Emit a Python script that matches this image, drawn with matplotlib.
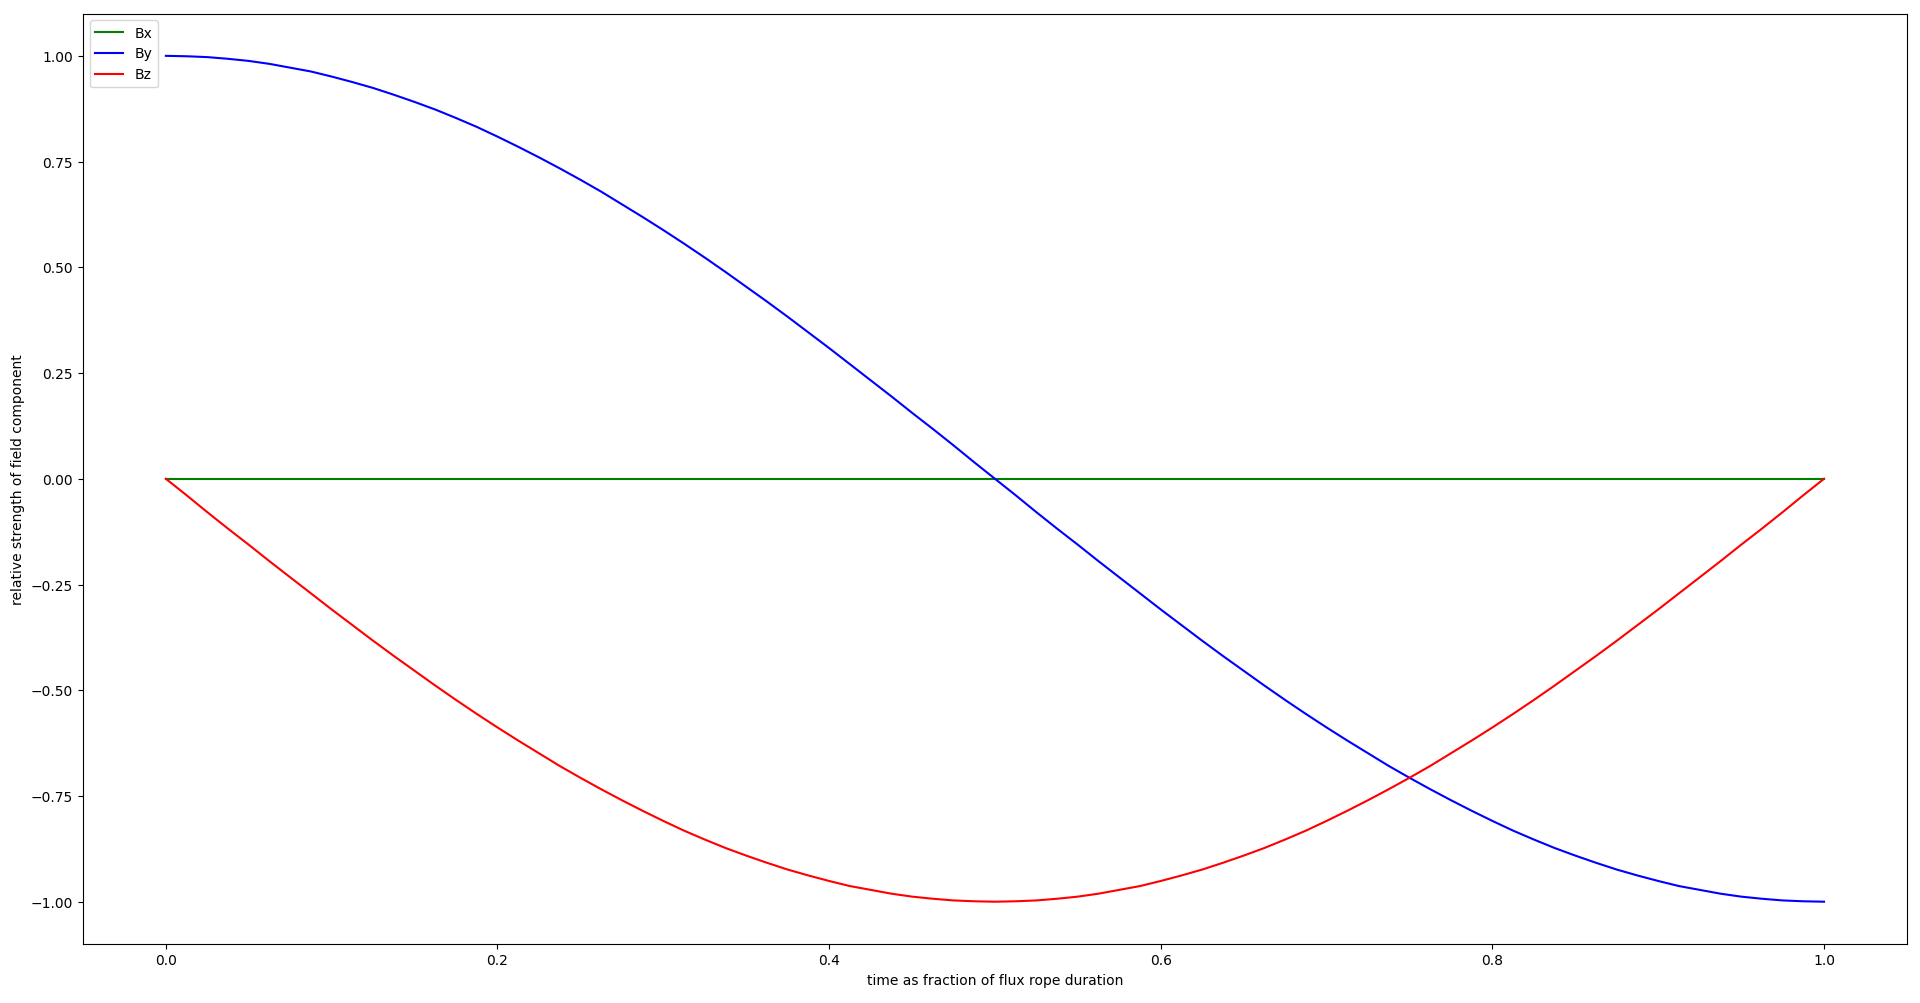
import matplotlib
matplotlib.use("Agg")
import matplotlib.pyplot as plt

# time as fraction of flux rope duration (values read at steps of 0.0125)
t = [0.0000, 0.0125, 0.0250, 0.0375, 0.0500, 0.0625, 0.0750, 0.0875, 0.1000, 0.1125,
     0.1250, 0.1375, 0.1500, 0.1625, 0.1750, 0.1875, 0.2000, 0.2125, 0.2250, 0.2375,
     0.2500, 0.2625, 0.2750, 0.2875, 0.3000, 0.3125, 0.3250, 0.3375, 0.3500, 0.3625,
     0.3750, 0.3875, 0.4000, 0.4125, 0.4250, 0.4375, 0.4500, 0.4625, 0.4750, 0.4875,
     0.5000, 0.5125, 0.5250, 0.5375, 0.5500, 0.5625, 0.5750, 0.5875, 0.6000, 0.6125,
     0.6250, 0.6375, 0.6500, 0.6625, 0.6750, 0.6875, 0.7000, 0.7125, 0.7250, 0.7375,
     0.7500, 0.7625, 0.7750, 0.7875, 0.8000, 0.8125, 0.8250, 0.8375, 0.8500, 0.8625,
     0.8750, 0.8875, 0.9000, 0.9125, 0.9250, 0.9375, 0.9500, 0.9625, 0.9750, 0.9875,
     1.0000]

bx = [0.0, 0.0, 0.0, 0.0, 0.0, 0.0, 0.0, 0.0, 0.0, 0.0,
      0.0, 0.0, 0.0, 0.0, 0.0, 0.0, 0.0, 0.0, 0.0, 0.0,
      0.0, 0.0, 0.0, 0.0, 0.0, 0.0, 0.0, 0.0, 0.0, 0.0,
      0.0, 0.0, 0.0, 0.0, 0.0, 0.0, 0.0, 0.0, 0.0, 0.0,
      0.0, 0.0, 0.0, 0.0, 0.0, 0.0, 0.0, 0.0, 0.0, 0.0,
      0.0, 0.0, 0.0, 0.0, 0.0, 0.0, 0.0, 0.0, 0.0, 0.0,
      0.0, 0.0, 0.0, 0.0, 0.0, 0.0, 0.0, 0.0, 0.0, 0.0,
      0.0, 0.0, 0.0, 0.0, 0.0, 0.0, 0.0, 0.0, 0.0, 0.0,
      0.0]

by = [1.000, 0.999, 0.997, 0.993, 0.988, 0.981, 0.972, 0.963, 0.951, 0.938,
      0.924, 0.908, 0.891, 0.873, 0.853, 0.832, 0.809, 0.785, 0.760, 0.734,
      0.707, 0.679, 0.649, 0.619, 0.588, 0.556, 0.523, 0.489, 0.454, 0.419,
      0.383, 0.346, 0.309, 0.271, 0.233, 0.195, 0.156, 0.118, 0.079, 0.039,
      0.000, -0.039, -0.079, -0.118, -0.156, -0.195, -0.233, -0.271, -0.309, -0.346,
      -0.383, -0.419, -0.454, -0.489, -0.523, -0.556, -0.588, -0.619, -0.649, -0.679,
      -0.707, -0.734, -0.760, -0.785, -0.809, -0.832, -0.853, -0.873, -0.891, -0.908,
      -0.924, -0.938, -0.951, -0.963, -0.972, -0.981, -0.988, -0.993, -0.997, -0.999,
      -1.000]

bz = [0.000, -0.039, -0.079, -0.118, -0.156, -0.195, -0.233, -0.271, -0.309, -0.346,
      -0.383, -0.419, -0.454, -0.489, -0.523, -0.556, -0.588, -0.619, -0.649, -0.679,
      -0.707, -0.734, -0.760, -0.785, -0.809, -0.832, -0.853, -0.873, -0.891, -0.908,
      -0.924, -0.938, -0.951, -0.963, -0.972, -0.981, -0.988, -0.993, -0.997, -0.999,
      -1.000, -0.999, -0.997, -0.993, -0.988, -0.981, -0.972, -0.963, -0.951, -0.938,
      -0.924, -0.908, -0.891, -0.873, -0.853, -0.832, -0.809, -0.785, -0.760, -0.734,
      -0.707, -0.679, -0.649, -0.619, -0.588, -0.556, -0.523, -0.489, -0.454, -0.419,
      -0.383, -0.346, -0.309, -0.271, -0.233, -0.195, -0.156, -0.118, -0.079, -0.039,
      0.000]

fig = plt.figure(figsize=(19.2, 10.035), dpi=100)
ax = fig.add_axes([0.0432, 0.0588, 0.9500, 0.9272])
ax.plot(t, bx, color="green", label="Bx")
ax.plot(t, by, color="blue", label="By")
ax.plot(t, bz, color="red", label="Bz")
ax.set_xlabel("time as fraction of flux rope duration")
ax.set_ylabel("relative strength of field component")
ax.legend(loc="upper left")
fig.savefig("out.png", dpi=100)
